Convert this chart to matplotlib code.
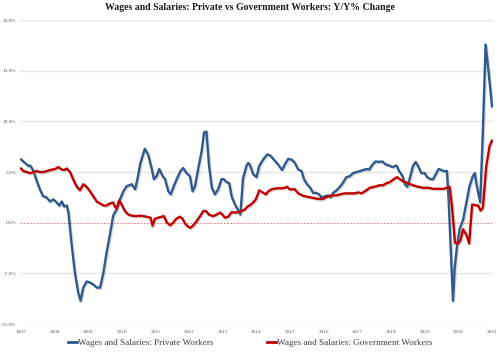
import matplotlib
matplotlib.use("Agg")
import matplotlib.pyplot as plt
from matplotlib.patheffects import SimpleLineShadow, Normal

private_years = [2007.00, 2007.17, 2007.22, 2007.27, 2007.32, 2007.37, 2007.47, 2007.56, 2007.66, 2007.76,
                 2007.86, 2007.96, 2008.06, 2008.14, 2008.21, 2008.28, 2008.36, 2008.41, 2008.50, 2008.60,
                 2008.70, 2008.77, 2008.85, 2008.95, 2009.05, 2009.15, 2009.25, 2009.35, 2009.45, 2009.54,
                 2009.64, 2009.74, 2009.84, 2009.94, 2010.04, 2010.14, 2010.29, 2010.39, 2010.46, 2010.55,
                 2010.68, 2010.78, 2010.88, 2010.95, 2011.03, 2011.11, 2011.21, 2011.28, 2011.38, 2011.45,
                 2011.54, 2011.64, 2011.74, 2011.82, 2011.92, 2012.02, 2012.10, 2012.17, 2012.27, 2012.37,
                 2012.44, 2012.51, 2012.59, 2012.67, 2012.76, 2012.86, 2012.96, 2013.03, 2013.11, 2013.19,
                 2013.26, 2013.36, 2013.46, 2013.52, 2013.60, 2013.70, 2013.75, 2013.80, 2013.90, 2014.00,
                 2014.08, 2014.20, 2014.32, 2014.42, 2014.51, 2014.64, 2014.76, 2014.84, 2014.94, 2015.04,
                 2015.14, 2015.24, 2015.34, 2015.41, 2015.50, 2015.60, 2015.68, 2015.78, 2015.86, 2015.93,
                 2016.03, 2016.13, 2016.20, 2016.28, 2016.38, 2016.48, 2016.57, 2016.67, 2016.77, 2016.87,
                 2016.97, 2017.07, 2017.17, 2017.27, 2017.35, 2017.45, 2017.54, 2017.64, 2017.74, 2017.84,
                 2017.94, 2018.04, 2018.16, 2018.24, 2018.34, 2018.41, 2018.48, 2018.55, 2018.65, 2018.73,
                 2018.80, 2018.90, 2019.00, 2019.07, 2019.17, 2019.25, 2019.33, 2019.41, 2019.50, 2019.56,
                 2019.66, 2019.71, 2019.76, 2019.84, 2019.89, 2019.96, 2020.04, 2020.14, 2020.24, 2020.33,
                 2020.43, 2020.49, 2020.53, 2020.65, 2020.73, 2020.81, 2020.91, 2021.00]
private_values = [6.25, 5.75, 5.6, 5.65, 5.4, 5.1, 4.1, 3.3, 2.6, 2.5,
                  2.1, 2.3, 2.0, 1.7, 2.1, 1.6, 1.7, 1.0, -2.0, -4.9,
                  -6.9, -7.7, -6.4, -5.8, -5.9, -6.1, -6.4, -6.4, -4.9, -3.0,
                  -1.2, 0.7, 1.3, 2.3, 3.1, 3.6, 3.8, 3.3, 4.3, 5.9,
                  7.3, 6.7, 5.4, 4.3, 4.6, 5.3, 4.6, 4.3, 3.1, 2.8,
                  3.6, 4.4, 5.1, 5.4, 4.9, 4.6, 3.1, 3.6, 5.4, 7.1,
                  8.9, 9.0, 5.6, 3.5, 2.8, 3.3, 4.3, 4.3, 4.0, 3.9,
                  2.6, 1.8, 1.2, 0.8, 4.4, 5.6, 5.9, 5.75, 4.8, 4.5,
                  5.6, 6.25, 6.75, 6.6, 6.25, 5.75, 5.2, 5.75, 6.3, 6.25,
                  5.9, 5.25, 5.1, 4.3, 3.8, 3.45, 2.95, 2.95, 2.8, 2.5,
                  2.6, 2.7, 2.5, 2.95, 3.2, 3.55, 3.95, 4.5, 4.6, 4.9,
                  5.0, 5.1, 5.2, 5.3, 5.25, 5.75, 6.05, 6.0, 6.05, 5.75,
                  5.65, 5.5, 5.65, 5.1, 4.6, 3.8, 3.55, 4.3, 5.6, 6.0,
                  5.6, 4.9, 4.9, 4.5, 4.3, 4.3, 4.8, 5.3, 5.2, 5.1,
                  5.1, 2.3, -1.6, -7.7, -4.5, -2.3, -0.6, 0.3, 2.0, 3.6,
                  4.6, 4.9, 3.95, 2.0, 9.2, 17.6, 14.5, 11.5]

gov_years = [2007.00, 2007.07, 2007.17, 2007.27, 2007.37, 2007.47, 2007.56, 2007.66, 2007.76, 2007.86,
             2008.01, 2008.11, 2008.21, 2008.28, 2008.36, 2008.46, 2008.55, 2008.65, 2008.75, 2008.85,
             2008.95, 2009.05, 2009.15, 2009.25, 2009.35, 2009.45, 2009.54, 2009.64, 2009.74, 2009.79,
             2009.84, 2009.92, 2009.99, 2010.09, 2010.19, 2010.29, 2010.44, 2010.53, 2010.63, 2010.73,
             2010.85, 2010.91, 2010.98, 2011.08, 2011.18, 2011.25, 2011.33, 2011.43, 2011.52, 2011.62,
             2011.72, 2011.80, 2011.87, 2011.97, 2012.04, 2012.12, 2012.22, 2012.32, 2012.42, 2012.50,
             2012.59, 2012.71, 2012.81, 2012.91, 2012.99, 2013.06, 2013.16, 2013.26, 2013.36, 2013.46,
             2013.55, 2013.65, 2013.75, 2013.80, 2013.90, 2013.98, 2014.08, 2014.18, 2014.28, 2014.35,
             2014.45, 2014.59, 2014.74, 2014.84, 2014.91, 2014.99, 2015.14, 2015.24, 2015.39, 2015.53,
             2015.68, 2015.83, 2015.98, 2016.08, 2016.18, 2016.28, 2016.38, 2016.48, 2016.62, 2016.77,
             2016.92, 2017.02, 2017.12, 2017.22, 2017.37, 2017.51, 2017.66, 2017.76, 2017.86, 2017.96,
             2018.08, 2018.18, 2018.26, 2018.35, 2018.50, 2018.65, 2018.80, 2018.95, 2019.10, 2019.25,
             2019.41, 2019.56, 2019.66, 2019.74, 2019.81, 2019.90, 2020.00, 2020.07, 2020.14, 2020.24,
             2020.32, 2020.41, 2020.54, 2020.59, 2020.66, 2020.73, 2020.83, 2020.93, 2021.00]
gov_values = [5.35, 5.1, 5.0, 4.9, 5.0, 5.1, 5.0, 5.0, 5.1, 5.2,
              5.3, 5.5, 5.25, 5.2, 5.35, 5.0, 4.3, 3.6, 3.2, 3.8,
              3.55, 3.1, 2.6, 2.1, 1.9, 1.7, 1.7, 1.9, 2.0, 1.6,
              1.4, 2.2, 1.8, 1.15, 0.8, 0.7, 0.65, 0.7, 0.65, 0.6,
              0.5, -0.3, 0.4, 0.5, 0.6, 0.65, 0.05, -0.25, 0.0, 0.4,
              0.6, 0.4, -0.05, -0.4, -0.5, -0.25, 0.15, 0.65, 1.15, 1.15,
              0.8, 0.65, 0.8, 1.0, 0.8, 0.5, 0.6, 1.05, 1.0, 1.05,
              1.15, 1.3, 1.65, 1.7, 2.0, 2.3, 3.2, 3.0, 2.8, 3.1,
              3.3, 3.4, 3.4, 3.45, 3.55, 3.3, 3.3, 2.9, 2.65, 2.55,
              2.45, 2.35, 2.35, 2.55, 2.65, 2.7, 2.7, 2.8, 2.9, 2.9,
              2.9, 3.0, 2.9, 3.1, 3.45, 3.55, 3.7, 3.7, 3.9, 4.0,
              4.3, 4.5, 4.3, 4.1, 3.9, 3.7, 3.55, 3.45, 3.45, 3.35,
              3.35, 3.35, 3.45, 3.55, 1.65, -2.0, -2.05, -1.65, -0.65, -1.2,
              -2.05, 1.8, 1.7, 1.7, 1.2, 1.5, 5.6, 7.6, 8.1]

year_ticks = list(range(2007, 2022))
y_ticks = [-10, -5, 0, 5, 10, 15, 20]

serif = ["Liberation Serif", "DejaVu Serif"]

fig = plt.figure(figsize=(5.0, 3.53), dpi=100)
ax = fig.add_axes([0.04, 0.082, 0.946, 0.861])

for y in y_ticks:
    if y != 0:
        ax.axhline(y, color="#e6e6e6", lw=1.0, zorder=0)
ax.axhline(0, color="#e86060", lw=0.6, ls=(0, (2, 2)), zorder=1)

shadow = [SimpleLineShadow(offset=(0.8, -0.8), shadow_color="#888888", alpha=0.35), Normal()]
ax.plot(private_years, private_values, color="#2e5a8e", lw=1.7, zorder=3,
        path_effects=shadow, label="Wages and Salaries: Private Workers")
ax.plot(gov_years, gov_values, color="#c00000", lw=1.7, zorder=3,
        path_effects=shadow, label="Wages and Salaries: Government Workers")

ax.set_xlim(2006.97, 2021.03)
ax.set_ylim(-10, 20)
ax.set_xticks(year_ticks)
ax.set_xticklabels([str(y) for y in year_ticks], fontsize=3.8, family=serif, color="#595959")
ax.set_yticks(y_ticks)
ax.set_yticklabels([f"{y:.1f}%" for y in y_ticks], fontsize=3.8, family=serif, color="#595959")
ax.tick_params(axis="y", length=0, pad=2.5)
ax.tick_params(axis="x", length=0, pad=4)
for s in ax.spines.values():
    s.set_visible(False)

fig.text(0.5, 1 - 8 / 353, "Wages and Salaries: Private vs Government Workers: Y/Y% Change",
         ha="center", va="center", fontsize=7, fontweight="bold", family=serif, color="#1a1a1a")

leg = fig.legend(loc="center", bbox_to_anchor=(0.5, 1 - 343 / 353), ncol=2, frameon=False,
                 prop={"family": serif, "size": 6.6}, handlelength=1.0, handletextpad=0.05,
                 columnspacing=5.9, borderpad=0)
for t in leg.get_texts():
    t.set_color("#404040")
for h in leg.get_lines():
    h.set_path_effects([])
    h.set_linewidth(2)

fig.savefig("out.png", dpi=100)
